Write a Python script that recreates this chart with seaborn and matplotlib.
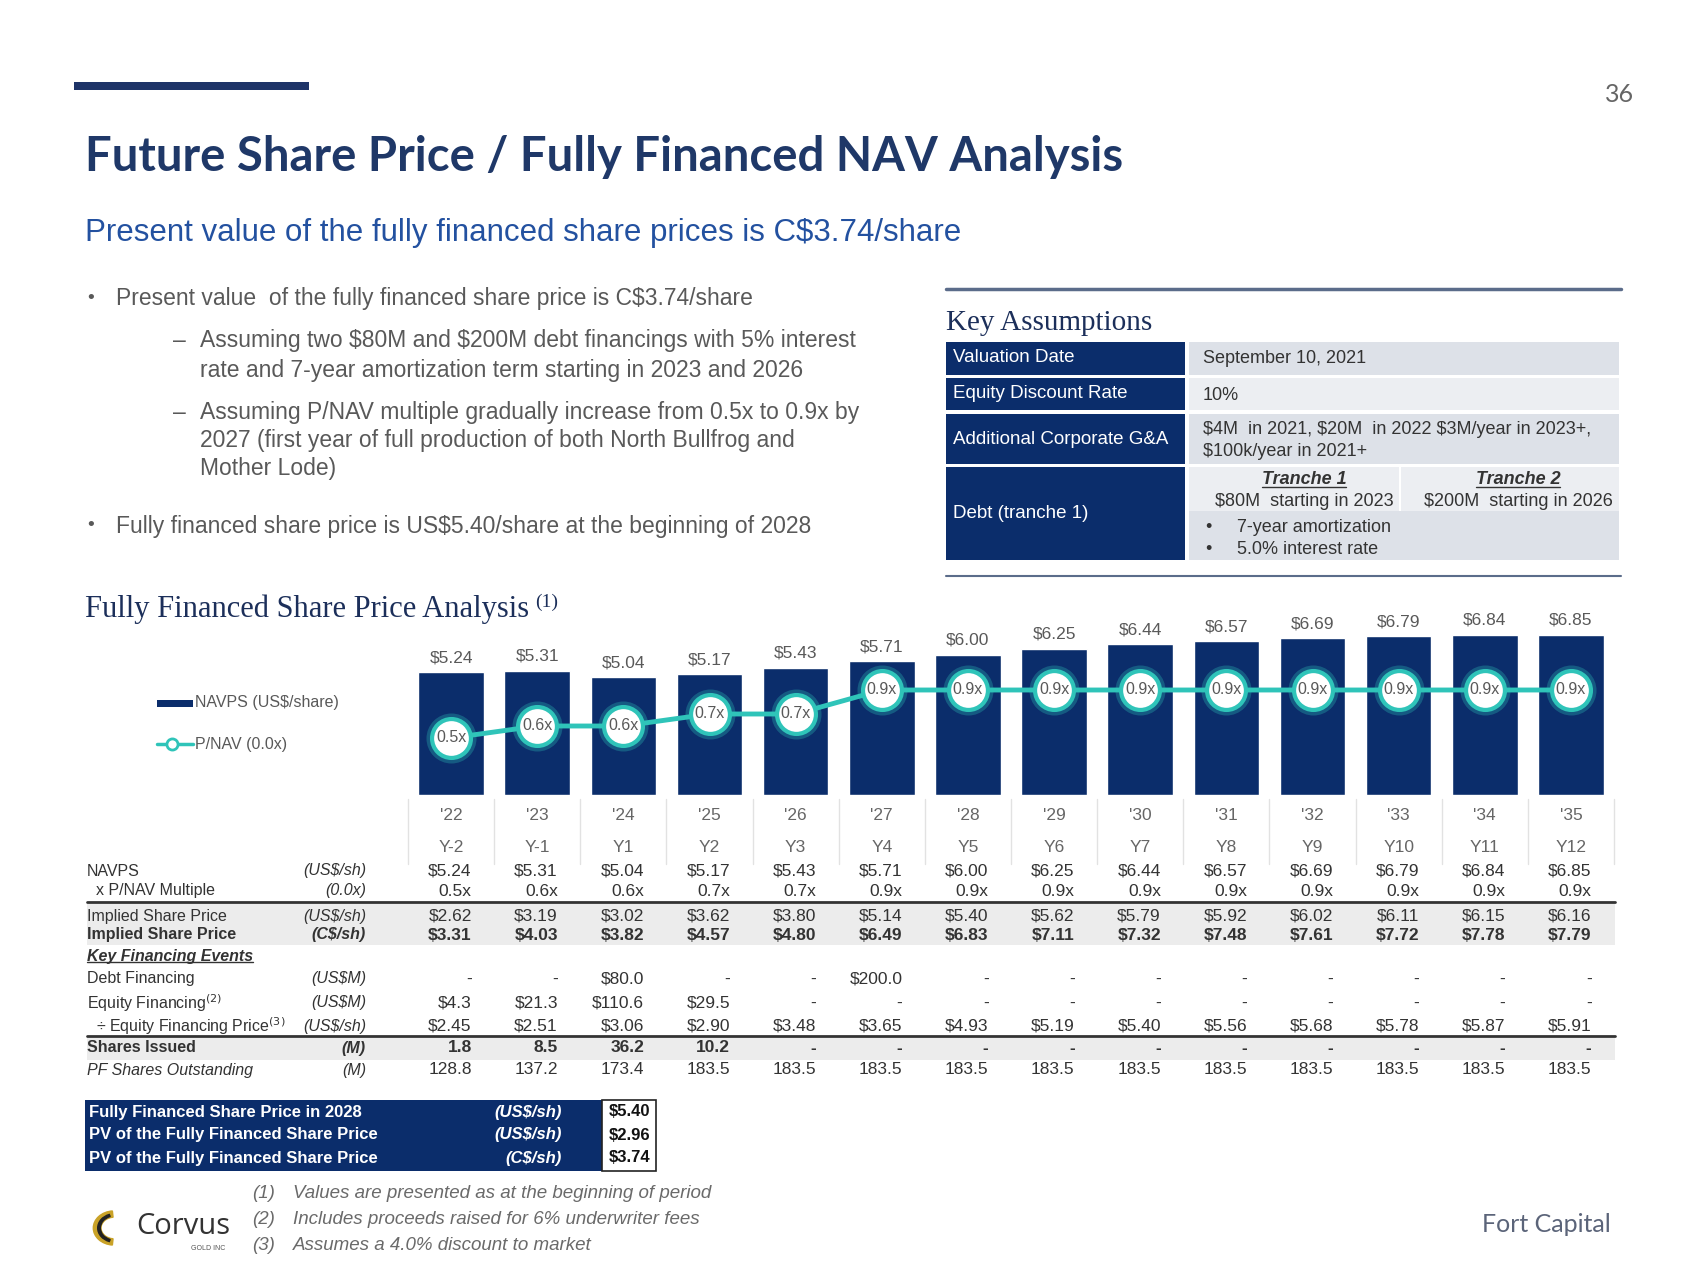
import numpy as np
import matplotlib
matplotlib.use('Agg')
import matplotlib.pyplot as plt
import matplotlib.transforms as mtransforms
from matplotlib.patches import Rectangle, Wedge
from matplotlib.lines import Line2D
import seaborn as sns

# chart data
years = ["'22", "'23", "'24", "'25", "'26", "'27", "'28", "'29", "'30", "'31", "'32", "'33", "'34", "'35"]
periods = ['Y-2', 'Y-1', 'Y1', 'Y2', 'Y3', 'Y4', 'Y5', 'Y6', 'Y7', 'Y8', 'Y9', 'Y10', 'Y11', 'Y12']
navps = [5.24, 5.31, 5.04, 5.17, 5.43, 5.71, 6.00, 6.25, 6.44, 6.57, 6.69, 6.79, 6.84, 6.85]
pnav = [0.5, 0.6, 0.6, 0.7, 0.7, 0.9, 0.9, 0.9, 0.9, 0.9, 0.9, 0.9, 0.9, 0.9]
implied_us = [2.62, 3.19, 3.02, 3.62, 3.80, 5.14, 5.40, 5.62, 5.79, 5.92, 6.02, 6.11, 6.15, 6.16]
implied_cad = [3.31, 4.03, 3.82, 4.57, 4.80, 6.49, 6.83, 7.11, 7.32, 7.48, 7.61, 7.72, 7.78, 7.79]
debt = [None, None, 80.0, None, None, 200.0, None, None, None, None, None, None, None, None]
equity = [4.3, 21.3, 110.6, 29.5, None, None, None, None, None, None, None, None, None, None]
equity_price = [2.45, 2.51, 3.06, 2.90, 3.48, 3.65, 4.93, 5.19, 5.40, 5.56, 5.68, 5.78, 5.87, 5.91]
shares_issued = [1.8, 8.5, 36.2, 10.2, None, None, None, None, None, None, None, None, None, None]
pf_shares = [128.8, 137.2, 173.4, 183.5, 183.5, 183.5, 183.5, 183.5, 183.5, 183.5, 183.5, 183.5, 183.5, 183.5]

summary_labels = ['Fully Financed Share Price in 2028', 'PV of the Fully Financed Share Price',
                  'PV of the Fully Financed Share Price']
summary_units = ['(US$/sh)', '(US$/sh)', '(C$/sh)']
summary_values = [5.40, 2.96, 3.74]

NAVY = '#0b2d6b'
TEAL = '#2fc4b9'
GREY = '#595959'
W, H = 1700, 1276

sns.set_theme(style='white')
plt.rcParams['font.family'] = ['Liberation Sans', 'DejaVu Sans']
SERIF = ['Liberation Serif', 'DejaVu Serif']
TITLEF = ['Lato', 'DejaVu Sans']

fig = plt.figure(figsize=(17, 12.76), dpi=100)
fig.patch.set_facecolor('white')


def fx(x):
    return x / W


def fy(y):
    return 1 - y / H


def txt(x, y, s, **kw):
    kw.setdefault('va', 'center')
    kw.setdefault('color', GREY)
    return fig.text(fx(x), fy(y), s, **kw)


def rect(x0, y0, x1, y1, color, **kw):
    fig.add_artist(Rectangle((fx(x0), fy(y1)), fx(x1) - fx(x0), fy(y0) - fy(y1),
                             transform=fig.transFigure, facecolor=color, zorder=0, **kw))


def hline(x0, x1, y, color, lw):
    fig.add_artist(Line2D([fx(x0), fx(x1)], [fy(y), fy(y)], transform=fig.transFigure,
                          color=color, lw=lw))


# header
rect(74, 82, 309, 90, '#1e3468', edgecolor='none')
txt(1605, 94, '36', fontsize=18, color='#666666', family=TITLEF)
txt(85, 157, 'Future Share Price / Fully Financed NAV Analysis', fontsize=34,
    weight='bold', color='#1f3868', family=TITLEF)
txt(85, 233, 'Present value of the fully financed share prices is C$3.74/share',
    fontsize=22.5, color='#2351a0')

# bullets
txt(87, 298, '•', fontsize=14)
txt(116, 298, 'Present value  of the fully financed share price is C$3.74/share', fontsize=16.5)
txt(173, 341, '–', fontsize=16.5)
txt(200, 341, r'Assuming two \$80M and \$200M debt financings with 5% interest', fontsize=16.5)
txt(200, 370, 'rate and 7-year amortization term starting in 2023 and 2026', fontsize=16.5)
txt(173, 412, '–', fontsize=16.5)
txt(200, 412, 'Assuming P/NAV multiple gradually increase from 0.5x to 0.9x by', fontsize=16.5)
txt(200, 440, '2027 (first year of full production of both North Bullfrog and', fontsize=16.5)
txt(200, 468, 'Mother Lode)', fontsize=16.5)
txt(87, 526, '•', fontsize=14)
txt(116, 526, 'Fully financed share price is US$5.40/share at the beginning of 2028', fontsize=16.5)

# key assumptions box
hline(946, 1621, 289, '#5b6c8a', 2.5)
txt(946, 323, 'Key Assumptions', fontsize=21, color='#1c2f5a', family=SERIF)
rect(946, 342, 1185, 375, NAVY, edgecolor='none')
rect(1189, 342, 1619, 375, '#dde1e8', edgecolor='none')
rect(946, 378, 1185, 410, NAVY, edgecolor='none')
rect(1189, 378, 1619, 410, '#eceef2', edgecolor='none')
rect(946, 414, 1185, 464, NAVY, edgecolor='none')
rect(1189, 414, 1619, 464, '#dde1e8', edgecolor='none')
rect(946, 467, 1185, 560, NAVY, edgecolor='none')
rect(1189, 467, 1399, 511, '#eceef2', edgecolor='none')
rect(1401, 467, 1619, 511, '#eceef2', edgecolor='none')
rect(1189, 511, 1619, 560, '#dde1e8', edgecolor='none')
hline(946, 1621, 576, '#5b6c8a', 1.5)
KA = dict(fontsize=13.5, color='white')
txt(953, 358, 'Valuation Date', **KA)
txt(953, 394, 'Equity Discount Rate', **KA)
txt(953, 439, 'Additional Corporate G&A', **KA)
txt(953, 513, 'Debt (tranche 1)', **KA)
KB = dict(fontsize=13, color='#333333')
txt(1203, 359, 'September 10, 2021', **KB)
txt(1203, 395, '10%', **KB)
txt(1203, 430, r'\$4M  in 2021, \$20M  in 2022 \$3M/year in 2023+,', **KB)
txt(1203, 451, '$100k/year in 2021+', **KB)
tr1 = txt(1304, 480, 'Tranche 1', ha='center', weight='bold', style='italic', **KB)
tr2 = txt(1518, 480, 'Tranche 2', ha='center', weight='bold', style='italic', **KB)
txt(1304, 502, '$80M  starting in 2023', ha='center', **KB)
txt(1518, 502, '$200M  starting in 2026', ha='center', **KB)
txt(1205, 528, '•', **KB)
txt(1237, 528, '7-year amortization', **KB)
txt(1205, 550, '•', **KB)
txt(1237, 550, '5.0% interest rate', **KB)

# chart section
txt(85, 609, 'Fully Financed Share Price Analysis', fontsize=22, color='#1c2f5a', family=SERIF)
txt(535, 602, '(1)', fontsize=14, color='#1c2f5a', family=SERIF)

ax = fig.add_axes([fx(408), fy(795), fx(1614) - fx(408), fy(600) - fy(795)])
sns.barplot(x=years, y=navps, color=NAVY, saturation=1, width=0.76, ax=ax)
ax.set_xlim(-0.5, len(years) - 0.5)
ax.set_ylim(0, 8.33)
ax.bar_label(ax.containers[0], labels=[f'${v:.2f}' for v in navps], padding=5,
             fontsize=12.5, color=GREY)
ax.axis('off')

ax2 = ax.twinx()
ax2.set_ylim(0.025, 1.65)
xs = np.arange(len(pnav))
sns.lineplot(x=xs, y=pnav, ax=ax2, color=TEAL, lw=3.5, sort=False)
ax2.plot(xs, pnav, ls='none', marker='o', ms=33, mfc='none', mec=TEAL, mew=3, alpha=0.3)
ax2.plot(xs, pnav, ls='none', marker='o', ms=28, mfc='white', mec=TEAL, mew=3)
for i, v in enumerate(pnav):
    ax2.text(i, v, f'{v:.1f}x', ha='center', va='center', fontsize=11.5, color=GREY)
ax2.axis('off')

# legend
rect(157, 700, 193, 707, NAVY, edgecolor='none')
txt(195, 703, 'NAVPS (US$/share)', fontsize=11.5)
hline(157, 193, 744, TEAL, 2.5)
fig.add_artist(Line2D([fx(172)], [fy(744)], transform=fig.transFigure, color=TEAL,
                      marker='o', ms=8, mfc='white', mew=2))
txt(195, 744, 'P/NAV (0.0x)', fontsize=11.5)

# table below the bars
colx = mtransforms.blended_transform_factory(ax.transData, fig.transFigure)
for i in range(len(years) + 1):
    fig.add_artist(Line2D([i - 0.5, i - 0.5], [fy(799), fy(864)], transform=colx,
                          color='#e2e2e2', lw=1))
for i, (yr, pr) in enumerate(zip(years, periods)):
    fig.text(i, fy(815), yr, transform=colx, ha='center', va='center', fontsize=12.5, color='#666666')
    fig.text(i, fy(847), pr, transform=colx, ha='center', va='center', fontsize=12.5, color='#666666')

rect(87, 904, 1615, 945, '#ececec', edgecolor='none')
rect(87, 1038, 1615, 1060, '#ececec', edgecolor='none')
hline(87, 1615, 902, '#333333', 2)
hline(87, 1615, 1036, '#333333', 2)


def dash_or(fmt):
    return lambda v: '-' if v is None else fmt.format(v)


rows = [
    (871, 'NAVPS', '(US$/sh)', navps, dash_or('${:.2f}'), {}),
    (891, ' x P/NAV Multiple', '(0.0x)', pnav, dash_or('{:.1f}x'), {}),
    (916, 'Implied Share Price', '(US$/sh)', implied_us, dash_or('${:.2f}'), {}),
    (935, 'Implied Share Price', '(C$/sh)', implied_cad, dash_or('${:.2f}'), {'weight': 'bold'}),
    (979, 'Debt Financing', '(US$M)', debt, dash_or('${:.1f}'), {}),
    (1003, 'Equity Financing$^{(2)}$', '(US$M)', equity, dash_or('${:.1f}'), {}),
    (1026, ' ÷ Equity Financing Price$^{(3)}$', '(US$/sh)', equity_price, dash_or('${:.2f}'), {}),
    (1048, 'Shares Issued', '(M)', shares_issued, dash_or('{:.1f}'), {'weight': 'bold'}),
    (1070, 'PF Shares Outstanding', '(M)', pf_shares, dash_or('{:.1f}'), {}),
]
TS = 12.5
LS = 11.5
for y, label, unit, vals, fmt, style in rows:
    lab_style = dict(style)
    if label.startswith('PF'):
        lab_style['style'] = 'italic'
    xoff = 96 if label.startswith(' ') else 87
    txt(xoff, y, label.strip(), fontsize=LS, color='#333333', **lab_style)
    txt(366, y, unit, ha='right', fontsize=LS, color='#333333', style='italic',
        weight=style.get('weight', 'normal'))
    for i, v in enumerate(vals):
        fig.text(i + 0.24, fy(y), fmt(v), transform=colx, ha='right', va='center',
                 fontsize=TS, color='#333333', **style)
kfe = txt(87, 956, 'Key Financing Events', fontsize=LS, color='#333333', weight='bold', style='italic')

# summary box
rect(85, 1100, 602, 1171, NAVY, edgecolor='none')
rect(602, 1100, 656, 1171, 'white', edgecolor='#222222', lw=1.2)
for k, (lab, unit, val) in enumerate(zip(summary_labels, summary_units, summary_values)):
    y = 1112 + k * 23
    txt(89, y, lab, fontsize=12, color='white', weight='bold')
    txt(562, y, unit, ha='right', fontsize=12, color='white', weight='bold', style='italic')
    txt(650, y, f'${val:.2f}', ha='right', fontsize=12, color='#111111', weight='bold')

# footnotes
notes = ['Values are presented as at the beginning of period',
         'Includes proceeds raised for 6% underwriter fees',
         'Assumes a 4.0% discount to market']
for k, n in enumerate(notes):
    y = 1193 + k * 26
    txt(252, y, f'({k + 1})', fontsize=13.5, color='#6a6a6a', style='italic')
    txt(293, y, n, fontsize=13.5, color='#6a6a6a', style='italic')

# Corvus logo
lax = fig.add_axes([fx(90), fy(1246), fx(134) - fx(90), fy(1210) - fy(1246)])
lax.set_xlim(-1, 1)
lax.set_ylim(-1, 1)
lax.add_patch(Wedge((0.1, 0), 0.95, 95, 265, width=0.35, color='#c9a227'))
lax.add_patch(Wedge((0.15, 0), 0.8, 110, 250, width=0.12, color='#222222'))
lax.axis('off')
txt(136, 1227, 'Corvus', fontsize=21, color='#333333', family=['Open Sans', 'DejaVu Sans'])
txt(191, 1249, 'GOLD INC', fontsize=5, color='#555555')
txt(1482, 1225, 'Fort Capital', fontsize=18, color='#5b6479', family=TITLEF)

# underlines for a few headings
fig.canvas.draw()
renderer = fig.canvas.get_renderer()
inv = fig.transFigure.inverted()
for t in [tr1, tr2, kfe]:
    bb = t.get_window_extent(renderer)
    (x0, y0), (x1, _) = inv.transform([[bb.x0, bb.y0], [bb.x1, bb.y1]])
    fig.add_artist(Line2D([x0, x1], [y0 + 0.001, y0 + 0.001], transform=fig.transFigure,
                          color='#333333', lw=1))

fig.savefig('out.png', dpi=100, facecolor='white')
